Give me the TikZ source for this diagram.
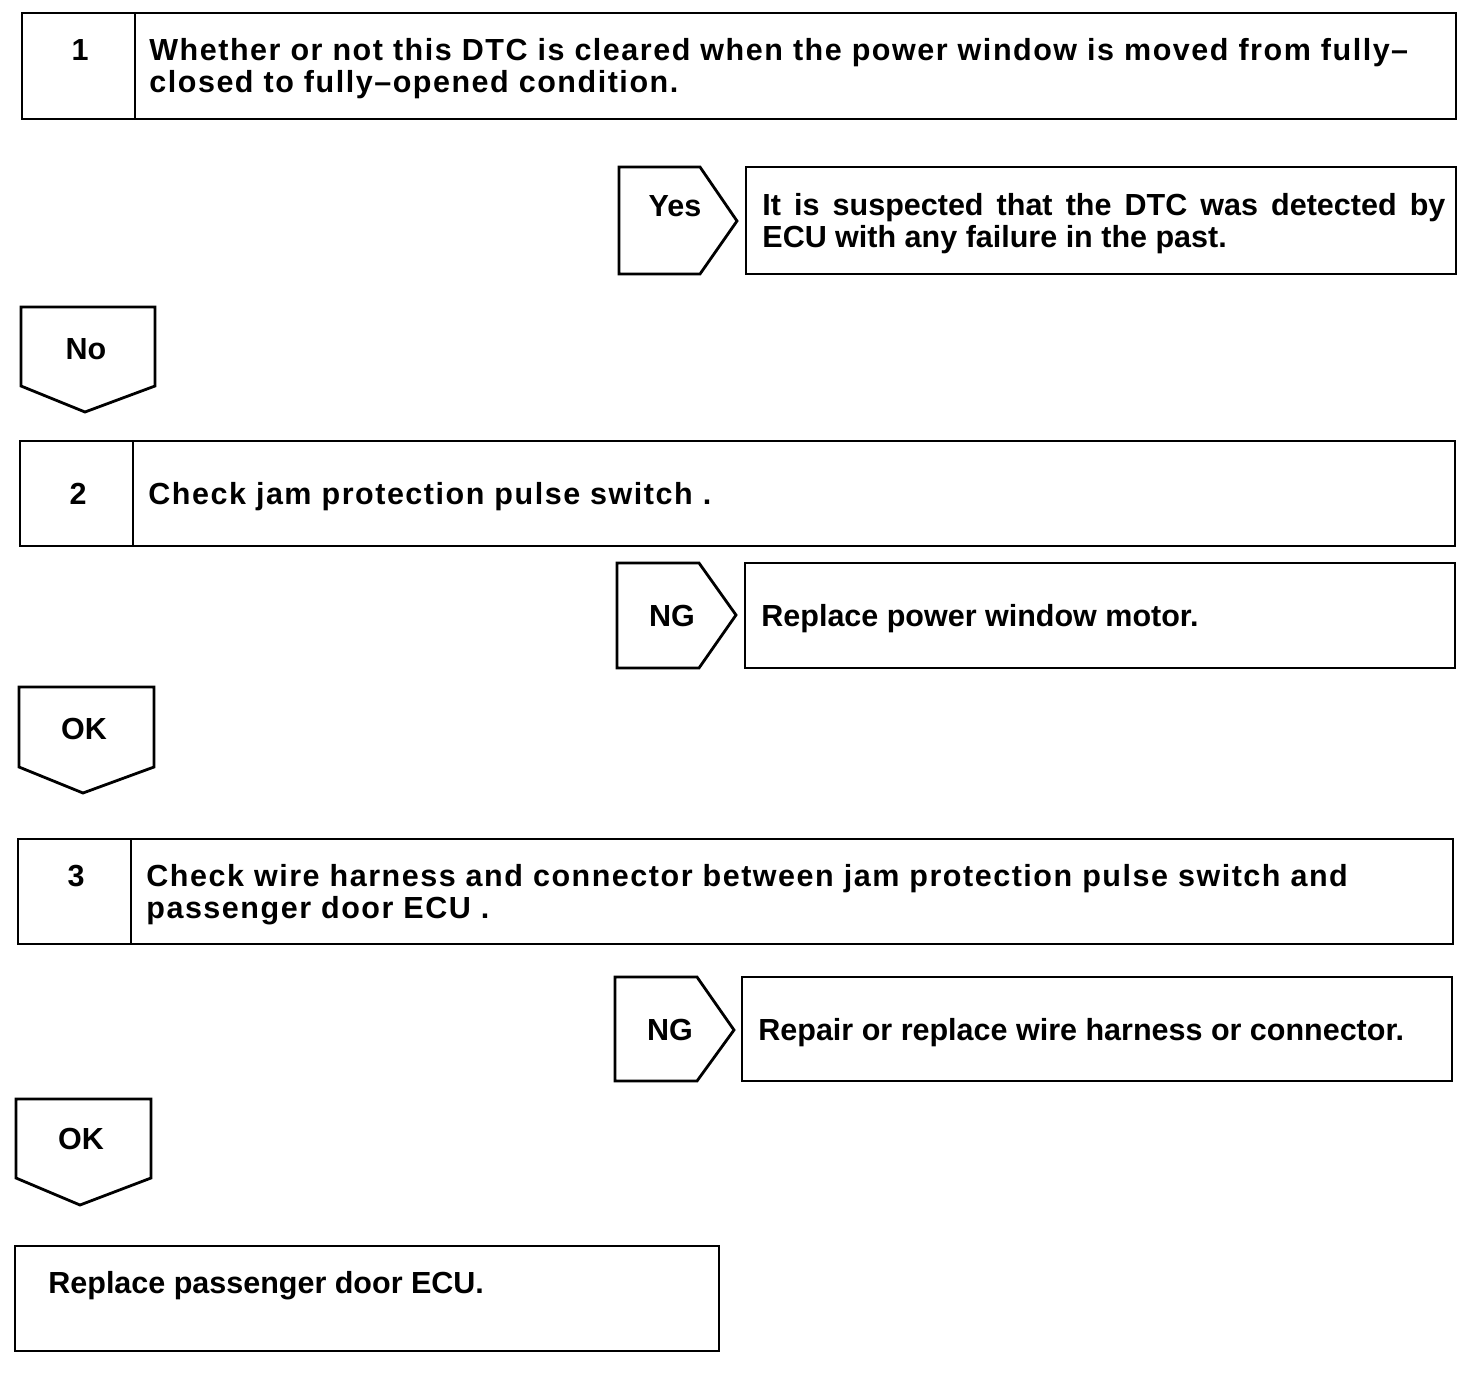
\documentclass[tikz,border=0pt]{standalone}
\usepackage{fontspec}
\setmainfont{Liberation Sans}

\begin{document}
\begin{tikzpicture}[x=1pt, y=-1pt, line width=2.8pt, line join=miter,
    txt/.style={anchor=base west, inner sep=0pt, align=left, font=\bfseries\fontsize{30.5}{32}\selectfont},
    steptxt/.style={txt, font=\bfseries\fontsize{30.5}{32}\selectfont\addfontfeature{LetterSpace=5}},
    num/.style={anchor=base, inner sep=0pt, font=\bfseries\fontsize{30.5}{32}\selectfont}]
        \useasboundingbox (0,0) rectangle (1472,1382);

        % step 1
        \draw (22,13) rectangle (1456,119);
        \draw (135,13) -- (135,119);
        \node[num] (n1) at (80,60) {1};
        \node[steptxt] (q1) at (148,92) {Whether or not this DTC is cleared when the power window is moved from fully--\\closed to fully--opened condition.};

        % Yes branch
        \draw (619,167) -- (700,167) -- (737,221) -- (700,274) -- (619,274) -- cycle;
        \node[num] (yes) at (675,216) {Yes};
        \draw (746,167) rectangle (1456,274);
        \node[txt] (r1) at (761,247) {\makebox[683pt][s]{It is suspected that the DTC was detected by}\\ECU with any failure in the past.};

        % No arrow
        \draw (21,307) -- (155,307) -- (155,386) -- (85,412) -- (21,386) -- cycle;
        \node[num] (no) at (86,359) {No};

        % step 2
        \draw (20,441) rectangle (1455,546);
        \draw (133,441) -- (133,546);
        \node[num] (n2) at (78,504) {2};
        \node[steptxt] (q2) at (147,504) {Check jam protection pulse switch .};

        % NG branch
        \draw (617,563) -- (699,563) -- (736,615) -- (699,668) -- (617,668) -- cycle;
        \node[num] (ng2) at (672,626) {NG};
        \draw (745,563) rectangle (1455,668);
        \node[txt] (r2) at (760,626) {Replace power window motor.};

        % OK arrow
        \draw (19,687) -- (154,687) -- (154,767) -- (83,793) -- (19,767) -- cycle;
        \node[num] (ok2) at (84,739) {OK};

        % step 3
        \draw (18,839) rectangle (1453,944);
        \draw (131,839) -- (131,944);
        \node[num] (n3) at (76,886) {3};
        \node[steptxt] (q3) at (145,918) {Check wire harness and connector between jam protection pulse switch and\\passenger door ECU .};

        % NG branch
        \draw (615,977) -- (697,977) -- (734,1030) -- (697,1081) -- (615,1081) -- cycle;
        \node[num] (ng3) at (670,1040) {NG};
        \draw (742,977) rectangle (1452,1081);
        \node[txt] (r3) at (757,1040) {Repair or replace wire harness or connector.};

        % OK arrow
        \draw (16,1099) -- (151,1099) -- (151,1178) -- (80,1205) -- (16,1178) -- cycle;
        \node[num] (ok3) at (81,1149) {OK};

        % last step
        \draw (15,1246) rectangle (719,1351);
        \node[txt] (r4) at (47,1293) {Replace passenger door ECU.};

    \end{tikzpicture}
\end{document}
